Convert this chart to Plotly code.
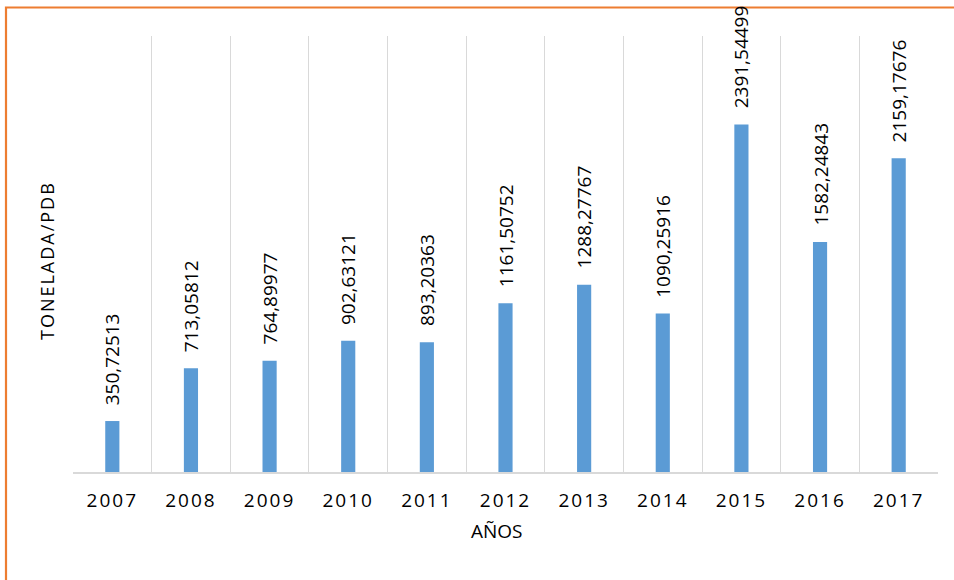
import plotly.graph_objects as go

years = ["2007", "2008", "2009", "2010", "2011", "2012", "2013", "2014", "2015", "2016", "2017"]
values = [350.72513, 713.05812, 764.89977, 902.63121, 893.20363, 1161.50752,
          1288.27767, 1090.25916, 2391.54499, 1582.24843, 2159.17676]
labels = ["350,72513", "713,05812", "764,89977", "902,63121", "893,20363", "1161,50752",
          "1288,27767", "1090,25916", "2391,54499", "1582,24843", "2159,17676"]

FONT = "Open Sans"
W, H = 954, 580
L, R, T, B = 73, 16, 36, 108
pw, ph = W - L - R, H - T - B

def px_x(p):
    return (p - L) / pw

def px_y(p):
    return (H - B - p) / ph

fig = go.Figure()
fig.add_trace(go.Bar(
    x=years, y=values, width=0.18,
    marker=dict(color="#5B9BD5", line=dict(width=0)),
    hoverinfo="x+y",
))

for i, (v, lab) in enumerate(zip(values, labels)):
    fig.add_annotation(
        x=i, y=v, xref="x", yref="y", text=lab, textangle=-90,
        showarrow=False, yanchor="bottom", xanchor="center", yshift=14,
        font=dict(family=FONT, size=19, color="#000000"),
    )

fig.add_annotation(
    x=px_x(497), y=px_y(531), xref="paper", yref="paper", text="AÑOS",
    showarrow=False, xanchor="center", yanchor="middle",
    font=dict(family=FONT, size=19, color="#000000"),
)
fig.add_annotation(
    x=px_x(47), y=px_y(261), xref="paper", yref="paper",
    text='<span style="letter-spacing:2px">TONELADA/PDB</span>', textangle=-90,
    showarrow=False, xanchor="center", yanchor="middle",
    font=dict(family=FONT, size=18, color="#000000"),
)

# orange chart-area border (left and top)
fig.add_shape(type="path", xref="paper", yref="paper",
              path=f"M {px_x(6)} {px_y(600)} L {px_x(6)} {px_y(7.5)} L {px_x(1000)} {px_y(7.5)}",
              line=dict(color="#ED7D31", width=2.2))

fig.update_layout(
    width=W, height=H,
    margin=dict(l=L, r=R, t=T, b=B, pad=0),
    paper_bgcolor="white", plot_bgcolor="white",
    showlegend=False,
    font=dict(family=FONT, color="#000000"),
    xaxis=dict(
        type="category", tickson="boundaries", showgrid=True,
        range=[-0.5, len(years) - 0.5], autorange=False,
        gridcolor="#d9d9d9", gridwidth=1,
        showline=True, linecolor="#d9d9d9", linewidth=1.5,
        ticks="", tickmode="array", tickvals=years,
        ticktext=[f'<span style="letter-spacing:2px">{y}</span>' for y in years],
        tickfont=dict(family=FONT, size=19, color="#000000"),
        ticklabelstandoff=10,
    ),
    yaxis=dict(range=[0, 3000], autorange=False, visible=False, showgrid=False, zeroline=False),
)

fig.write_html("out.html",
               config={"displayModeBar": False},
               post_script="document.body.style.margin='0';document.body.style.overflow='hidden';")
